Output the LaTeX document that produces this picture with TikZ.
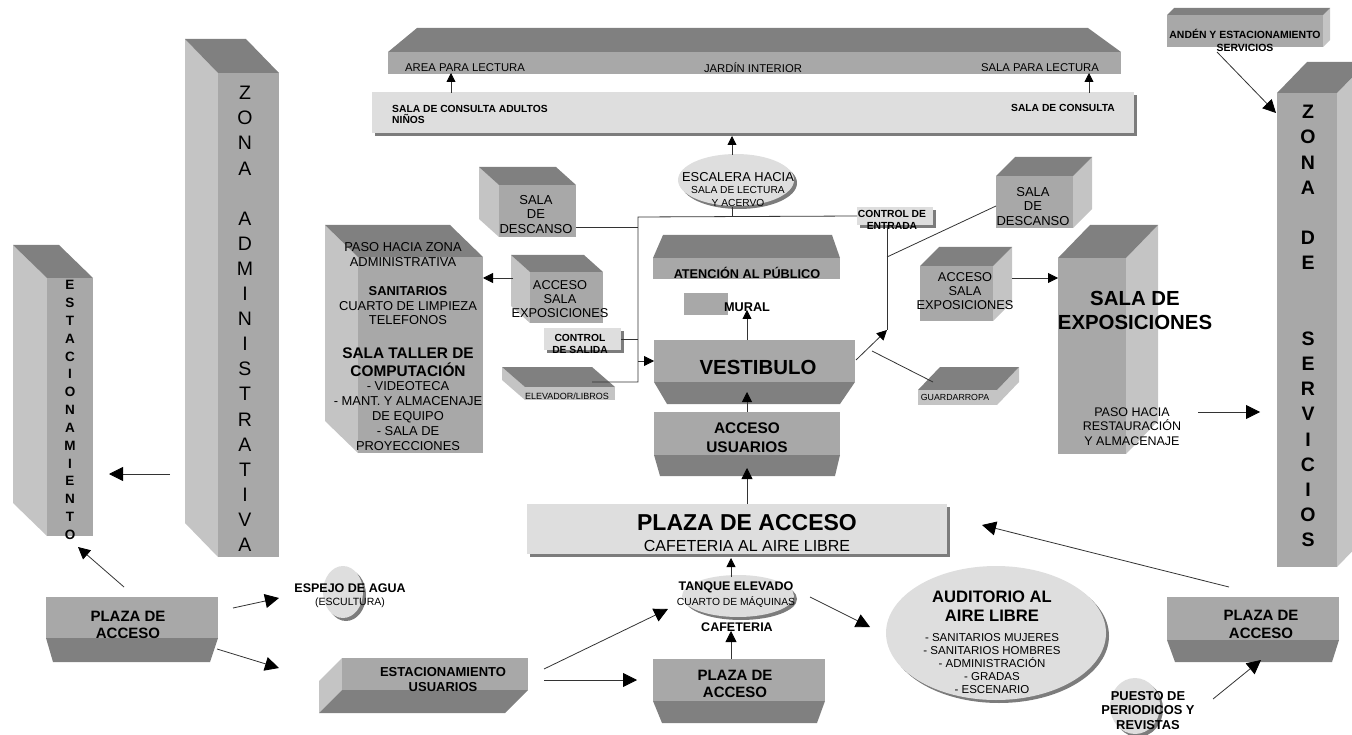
\documentclass[tikz,border=0pt]{standalone}
\usepackage{fontspec}
\setmainfont{Liberation Sans}
\usepackage{tikz}
\usetikzlibrary{arrows.meta, positioning, backgrounds, shapes, shadows, fit}
\definecolor{TOP}{HTML}{808080}
\definecolor{FRONT}{HTML}{A8A8A8}
\definecolor{SIDE}{HTML}{C4C4C4}
\definecolor{SLAB}{HTML}{DEDEDE}
\definecolor{SOMBRA}{HTML}{7C7C7C}
\tikzset{
  cara/.style={% front face of a block
      rectangle, inner sep=0, outer sep=0, fill=FRONT},
  clara/.style={% light front face (thin slabs)
      rectangle, inner sep=0, outer sep=0, fill=SIDE},
  losa/.style={% light slab with shadow
      rectangle, inner sep=0, outer sep=0, fill=SLAB,
      drop shadow={shadow xshift=3pt, shadow yshift=-3pt, fill=SOMBRA, opacity=1}},
  bola/.style={% ellipses
      ellipse, inner sep=0, fill=SLAB,
      drop shadow={shadow xshift=3pt, shadow yshift=-3pt, fill=SOMBRA, opacity=1}},
  txt/.style args={#1/#2}{inner sep=0, align=center, font=\fontsize{#1}{#2}\selectfont},
  neg/.style args={#1/#2}{inner sep=0, align=center, font=\fontsize{#1}{#2}\selectfont\bfseries},
  linea/.style={line width=0.8pt, draw=black!80},
  flecha/.style={linea, -{Triangle[length=#1pt, width=#1pt, color=black]}},
  flecha/.default=13,
}
% depth faces of a block: node, dx, dy, north/south, west/east
\newcommand\prisma[5]{%
  \begin{scope}[on background layer]
    \clip (0,0) rectangle (1352,735);
    \fill[SIDE] (#1.north #5) -- ([shift={(#2,#3)}]#1.north #5) -- ([shift={(#2,#3)}]#1.south #5) -- (#1.south #5) -- cycle;
    \fill[TOP] (#1.#4 west) -- ([shift={(#2,#3)}]#1.#4 west) -- ([shift={(#2,#3)}]#1.#4 east) -- (#1.#4 east) -- cycle;
  \end{scope}
}
% trapezoid under a block: node, inset left, inset right, height
\newcommand\faldon[4]{%
  \begin{scope}[on background layer]
    \fill[TOP] (#1.south west) -- (#1.south east) -- ([shift={(-#3,#4)}]#1.south east) -- ([shift={(#2,#4)}]#1.south west) -- cycle;
  \end{scope}
}
% trapezoid over a block: node, inset left, inset right, height
\newcommand\techo[4]{%
  \begin{scope}[on background layer]
    \fill[TOP] (#1.north west) -- ([shift={(#2,-#4)}]#1.north west) -- ([shift={(-#3,-#4)}]#1.north east) -- (#1.north east) -- cycle;
  \end{scope}
}
\begin{document}
\begin{tikzpicture}[x=1pt, y=-1pt]
  \useasboundingbox (0,0) rectangle (1352,735);

  % columns
  \node[cara, fit={(47,278) (93,536)}] (estF) {};
  \prisma{estF}{-34}{-33}{north}{west}
  \foreach \l [count=\i from 0] in {E,S,T,A,C,I,O,N,A,M,I,E,N,T,O}
    \node[neg=13.5/13.5] (est\i) at (70, {285+\i*17.85}) {\l};

  \node[cara, fit={(218,73) (279,557)}] (admF) {};
  \prisma{admF}{-33}{-34}{north}{west}
  \foreach \l [count=\i from 0] in {Z,O,N,A,{},A,D,M,I,N,I,S,T,R,A,T,I,V,A}
    \node[txt=19.5/19.5] (adm\i) at (245, {93+\i*25.1}) {\l};

  \node[cara, fit={(1277,93) (1337,567)}] (srvF) {};
  \prisma{srvF}{30}{-31}{north}{east}
  \foreach \l [count=\i from 0] in {Z,O,N,A,{},D,E,{},{},S,E,R,V,I,C,I,O,S}
    \node[neg=19.5/19.5] (srv\i) at (1308, {112+\i*25.18}) {\l};

  % left wing
  \node[cara, fit={(358,257) (483,453)}] (paso) {};
  \prisma{paso}{-33}{-32}{north}{west}
  \node[txt=12.9/15] (tpaso) at (403,254.5) {PASO HACIA ZONA\\ADMINISTRATIVA};
  \node[neg=12.9/15] (tsan) at (408,291) {SANITARIOS};
  \node[txt=12.9/14.5] (tcuart) at (408,313) {CUARTO DE LIMPIEZA\\TELEFONOS};
  \node[neg=15.4/18] (ttaller) at (408,362) {SALA TALLER DE\\COMPUTACIÓN};
  \node[txt=12.9/15] (tvideo) at (408,416) {- VIDEOTECA\\- MANT. Y ALMACENAJE\\DE EQUIPO\\- SALA DE\\PROYECCIONES};

  \node[cara, fit={(499,185) (576,237)}] (desL) {};
  \prisma{desL}{-20}{-18}{north}{west}
  \node[txt=13/14.5] (tdesL) at (536,214.5) {SALA\\DE\\DESCANSO};

  \node[cara, fit={(530,272) (603,323)}] (accL) {};
  \prisma{accL}{-19}{-17}{north}{west}
  \node[txt=12.8/14] (taccL) at (560,299) {ACCESO\\SALA\\EXPOSICIONES};

  \node[losa, fit={(544,328) (621,350)}] (ctrlS) {};
  \node[neg=10.3/12] (tctrlS) at (580,344) {CONTROL\\DE SALIDA};

  \node[clara, fit={(525,387) (615,400)}] (elev) {};
  \prisma{elev}{-23}{-20}{north}{west}
  \node[txt=9/10] (telev) at (567,396) {ELEVADOR/LIBROS};

  % top
  \node[cara, fit={(388,52) (1121,74)}] (jard) {};
  \techo{jard}{29}{33}{24}
  \node[txt=11.3/13] (tarea) at (465,68) {AREA PARA LECTURA};
  \node[txt=11.3/13] (tjard) at (753,68) {JARDÍN INTERIOR};
  \node[txt=11.3/13] (tsalaL) at (1040,68) {SALA PARA LECTURA};

  \node[losa, fit={(372,92) (1134,133)}] (consulta) {};
  \node[neg=10.3/11, align=left, anchor=west] (tcons1) at (392,114.5) {SALA DE CONSULTA ADULTOS\\NIÑOS};
  \node[neg=10.3/12] (tcons2) at (1063,108) {SALA DE CONSULTA};

  \node[bola, minimum width=116pt, minimum height=52pt] (escal) at (736,180) {};
  \node[txt=12.9/14] (tesc1) at (738,177) {ESCALERA HACIA};
  \node[txt=10.2/13] (tesc2) at (738,196.5) {SALA DE LECTURA\\Y ACERVO};

  % center
  \node[cara, fit={(653,258) (840,279)}] (aten) {};
  \techo{aten}{10}{8}{23}
  \node[neg=12.7/14] (taten) at (747,273) {ATENCIÓN AL PÚBLICO};

  \node[cara, fit={(684,293) (728,315)}] (mural) {};
  \node[neg=12.7/14] (tmural) at (747,307) {MURAL};

  \node[cara, fit={(654,340) (855,382)}] (vest) {};
  \faldon{vest}{13}{15}{22}
  \node[neg=20.4/22] (tvest) at (758,367) {VESTIBULO};

  \node[cara, fit={(654,412) (840,455)}] (accU) {};
  \faldon{accU}{6}{5}{21}
  \node[neg=15.4/19] (taccU) at (747,437.5) {ACCESO\\USUARIOS};

  \node[losa, fit={(857,207) (933,225)}] (ctrlE) {};
  \node[neg=10.3/12] (tctrlE) at (892,220) {CONTROL DE\\ENTRADA};

  \node[losa, fit={(527,504) (947,554)}] (plzBig) {};
  \node[neg=23/25] (tplzBig) at (747,523) {PLAZA DE ACCESO};
  \node[txt=16/18] (tlibre) at (747,546) {CAFETERIA AL AIRE LIBRE};

  % right wing
  \node[cara, fit={(996,176) (1073,228)}] (desR) {};
  \prisma{desR}{19}{-19}{north}{east}
  \node[txt=13/14.5] (tdesR) at (1033,206.5) {SALA\\DE\\DESCANSO};

  \node[cara, fit={(920,266) (993,321)}] (accR) {};
  \prisma{accR}{19}{-19}{north}{east}
  \node[txt=12.8/14] (taccR) at (965,291.5) {ACCESO\\SALA\\EXPOSICIONES};

  \node[clara, fit={(918,390) (997,405)}] (guard) {};
  \prisma{guard}{22}{-23}{north}{east}
  \node[txt=8.8/10] (tguard) at (955,397) {GUARDARROPA};

  \node[cara, fit={(1058,258) (1126,454)}] (expo) {};
  \prisma{expo}{32}{-33}{north}{east}
  \node[neg=20.4/24] (texpo) at (1135,310) {SALA DE\\EXPOSICIONES};
  \node[txt=12.5/14.5] (trest) at (1132,426.5) {PASO HACIA\\RESTAURACIÓN\\Y ALMACENAJE};

  \node[cara, fit={(1167,15) (1323,47)}] (anden) {};
  \prisma{anden}{7}{-7}{north}{east}
  \node[neg=10.45/13] (tanden) at (1245,40.5) {ANDÉN Y ESTACIONAMIENTO\\SERVICIOS};

  % bottom
  \node[cara, fit={(46,597) (218,638)}] (plzL) {};
  \faldon{plzL}{7}{8}{24}
  \node[neg=15/17] (tplzL) at (128,625) {PLAZA DE\\ACCESO};

  \node[bola, minimum width=40pt, minimum height=52pt] (espejo) at (343,592) {};
  \node[neg=12.5/14] (tespejo) at (350,588) {ESPEJO DE AGUA};
  \node[txt=10.5/12] (tescul) at (350,603) {(ESCULTURA)};

  \node[cara, fit={(342,658) (528,690)}] (estU) {};
  \prisma{estU}{-23}{23}{south}{west}
  \node[neg=13/15] (testU) at (443,680) {ESTACIONAMIENTO\\USUARIOS};

  \node[bola, minimum width=112pt, minimum height=42pt] (tanque) at (738,596) {};
  \node[neg=12.5/14] (ttanque) at (736,587) {TANQUE ELEVADO};
  \node[txt=10.3/12] (tcuarto) at (736,602) {CUARTO DE MÁQUINAS};
  \node[neg=12.5/14] (tcafe) at (737,627) {CAFETERIA};

  \node[cara, fit={(653,659) (825,701)}] (plzB) {};
  \faldon{plzB}{9}{8}{22}
  \node[neg=15/17] (tplzB) at (735,683.5) {PLAZA DE\\ACCESO};

  \node[bola, minimum width=220pt, minimum height=134pt] (aud) at (996,633) {};
  \node[neg=16.6/19] (taud) at (992,606.5) {AUDITORIO AL\\AIRE LIBRE};
  \node[txt=11.5/13] (taud2) at (992,664) {- SANITARIOS MUJERES\\- SANITARIOS HOMBRES\\- ADMINISTRACIÓN\\- GRADAS\\- ESCENARIO};

  \node[cara, fit={(1167,597) (1339,640)}] (plzR) {};
  \faldon{plzR}{8}{7}{22}
  \node[neg=15/18] (tplzR) at (1261,624) {PLAZA DE\\ACCESO};

  \node[bola, minimum width=50pt, minimum height=56pt] (puesto) at (1135,706) {};
  \node[neg=12.9/14.5] (tpuesto) at (1148,710.5) {PUESTO DE\\PERIODICOS Y\\REVISTAS};

  % connector ends
  \coordinate (admO) at (170,474);  \coordinate (estI) at (109,474);
  \coordinate (plzLn) at (124,587); \coordinate (estB) at (78,547);
  \coordinate (plzLe) at (233,608); \coordinate (espW) at (279,598);
  \coordinate (plzLs) at (217,649); \coordinate (estUw) at (279,668);
  \coordinate (estUe) at (544,680); \coordinate (plzBw) at (637,680);
  \coordinate (estUn) at (544,669); \coordinate (tanW) at (668,609);
  \coordinate (plzBn) at (731,659); \coordinate (cafS) at (731,631);
  \coordinate (tanN) at (731,577);  \coordinate (plzBigS) at (731,558);
  \coordinate (tanE) at (810,597);  \coordinate (audW) at (870,627);
  \coordinate (plzBigN) at (747,504); \coordinate (accUs) at (747,468);
  \coordinate (accUn) at (747,412); \coordinate (vestS) at (747,392);
  \coordinate (vestN) at (747,340); \coordinate (muralS) at (747,310);
  \coordinate (escN) at (732,155);  \coordinate (consS) at (732,136);
  \coordinate (consA) at (451,93);  \coordinate (areaS) at (451,73);
  \coordinate (consB) at (1089,93); \coordinate (salaS) at (1089,73);
  \coordinate (escS) at (732,207);  \coordinate (barra) at (732,217);
  \coordinate (nudoT) at (638,217); \coordinate (nudoB) at (638,382);
  \coordinate (desLe) at (576,227); \coordinate (nudoD) at (638,227);
  \coordinate (ctrlSe) at (621,339); \coordinate (nudoC) at (638,339);
  \coordinate (elevE) at (592,382); \coordinate (nudoV) at (638,361);
  \coordinate (vestNE) at (856,360); \coordinate (ctrlV) at (887,330);
  \coordinate (ctrlEs) at (887,225); \coordinate (ctrlM) at (887,257);
  \coordinate (desRw) at (996,206);
  \coordinate (vestG) at (872,351); \coordinate (guardT) at (933,382);
  \coordinate (accLw) at (513,278); \coordinate (pasoE) at (483,278);
  \coordinate (accRe) at (1012,278); \coordinate (expoW) at (1058,278);
  \coordinate (restE) at (1198,412); \coordinate (srvW) at (1260,412);
  \coordinate (andenS) at (1217,52); \coordinate (srvNW) at (1276,113);
  \coordinate (plzRn) at (1229,587); \coordinate (plzBigE) at (982,525);
  \coordinate (puestoE) at (1213,699); \coordinate (plzRs) at (1261,660);

  % connectors
  \draw[flecha=14] (admO) -- (estI);
  \draw[flecha=12] (plzLn) -- (estB);
  \draw[flecha=14] (plzLe) -- (espW);
  \draw[flecha=14] (plzLs) -- (estUw);
  \draw[flecha=14] (estUe) -- (plzBw);
  \draw[flecha=14] (estUn) -- (tanW);
  \draw[flecha=11] (plzBn) -- (cafS);
  \draw[flecha=9] (tanN) -- (plzBigS);
  \draw[flecha=14] (tanE) -- (audW);
  \draw[flecha=11] (plzBigN) -- (accUs);
  \draw[flecha=10] (accUn) -- (vestS);
  \draw[flecha=9] (vestN) -- (muralS);
  \draw[flecha=9] (escN) -- (consS);
  \draw[flecha=9] (consA) -- (areaS);
  \draw[flecha=9] (consB) -- (salaS);
  \draw[linea] (escS) -- (barra);
  \draw[linea] (ctrlE.west) -- (nudoT) -- (nudoB) -- (elevE);
  \draw[linea] (desLe) -- (nudoD);
  \draw[linea] (ctrlSe) -- (nudoC);
  \draw[flecha=10] (nudoV) -- (vest.west);
  \draw[flecha=10] (vestNE) -- (ctrlV);
  \draw[linea] (ctrlEs) -- (ctrlV);
  \draw[linea] (ctrlM) -- (desRw);
  \draw[linea] (vestG) -- (guardT);
  \draw[flecha=10] (accLw) -- (pasoE);
  \draw[flecha=10] (accRe) -- (expoW);
  \draw[flecha=14] (restE) -- (srvW);
  \draw[flecha=13] (andenS) -- (srvNW);
  \draw[flecha=14] (plzRn) -- (plzBigE);
  \draw[flecha=14] (puestoE) -- (plzRs);
\end{tikzpicture}
\end{document}
